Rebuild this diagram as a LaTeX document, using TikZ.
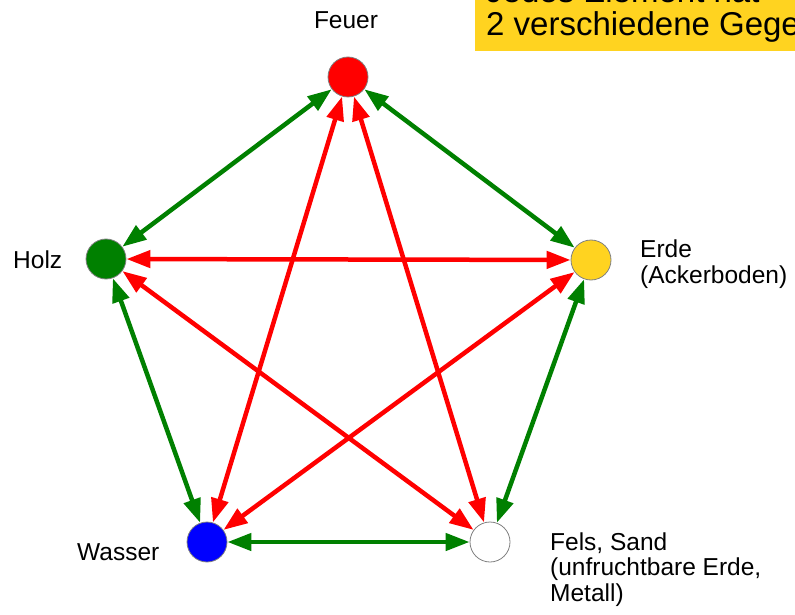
\documentclass[tikz,border=0pt]{standalone}
\usepackage{fontspec}
\setmainfont{Liberation Sans}
\usetikzlibrary{arrows.meta}
\definecolor{elyellow}{RGB}{255,211,32}
\definecolor{elgreen}{RGB}{0,128,0}
\definecolor{elred}{RGB}{255,0,0}
\definecolor{elblue}{RGB}{0,0,255}
\definecolor{elgray}{RGB}{128,128,128}
\tikzset{
  elem/.style={circle, draw=elgray, line width=0.8bp, minimum size=40bp, inner sep=0pt},
  lbl/.style={font=\fontsize{24.5bp}{25.5bp}\selectfont, text=black, inner sep=0pt, align=left},
  boxtxt/.style={font=\fontsize{33bp}{33bp}\selectfont, text=black, inner sep=0pt, anchor=base west},
  link/.style={line width=4.5bp, {Triangle[length=24bp,width=17bp]}-{Triangle[length=24bp,width=17bp]}},
  friend/.style={link, draw=elgreen, fill=elgreen},
  foe/.style={link, draw=elred, fill=elred},
}
\begin{document}
\begin{tikzpicture}[x=1bp,y=-1bp]
\useasboundingbox (0,0) rectangle (795,615);
\clip (0,0) rectangle (795,615);
% note box
\fill[elyellow] (475,-10) rectangle (820,51);
\node[boxtxt] (n1) at (486,3) {Jedes Element hat};
\node[boxtxt] (n2) at (486,36) {2 verschiedene Gegenspieler};
% elements
\node[elem, fill=elred]    (feuer)  at (348,77)  {};
\node[elem, fill=elgreen]  (holz)   at (106,259) {};
\node[elem, fill=elyellow] (erde)   at (591,260) {};
\node[elem, fill=elblue]   (wasser) at (207,542) {};
\node[elem, fill=white]    (fels)   at (490,542) {};
% labels
\node[lbl, anchor=base] (lf) at (346,29) {Feuer};
\node[lbl, anchor=base west] (lh) at (13,268) {Holz};
\node[lbl, anchor=base west] (le) at (640,283) {Erde\\(Ackerboden)};
\node[lbl, anchor=base west] (lw) at (77,560) {Wasser};
\node[lbl, anchor=base west] (ls) at (550,601) {Fels, Sand\\(unfruchtbare Erde,\\Metall)};
% green links
\draw[friend] (feuer) -- (erde);
\draw[friend] (erde) -- (fels);
\draw[friend] (fels) -- (wasser);
\draw[friend] (wasser) -- (holz);
\draw[friend] (holz) -- (feuer);
% red links
\draw[foe] (holz) -- (erde);
\draw[foe] (feuer) -- (wasser);
\draw[foe] (feuer) -- (fels);
\draw[foe] (erde) -- (wasser);
\draw[foe] (holz) -- (fels);
\end{tikzpicture}
\end{document}
